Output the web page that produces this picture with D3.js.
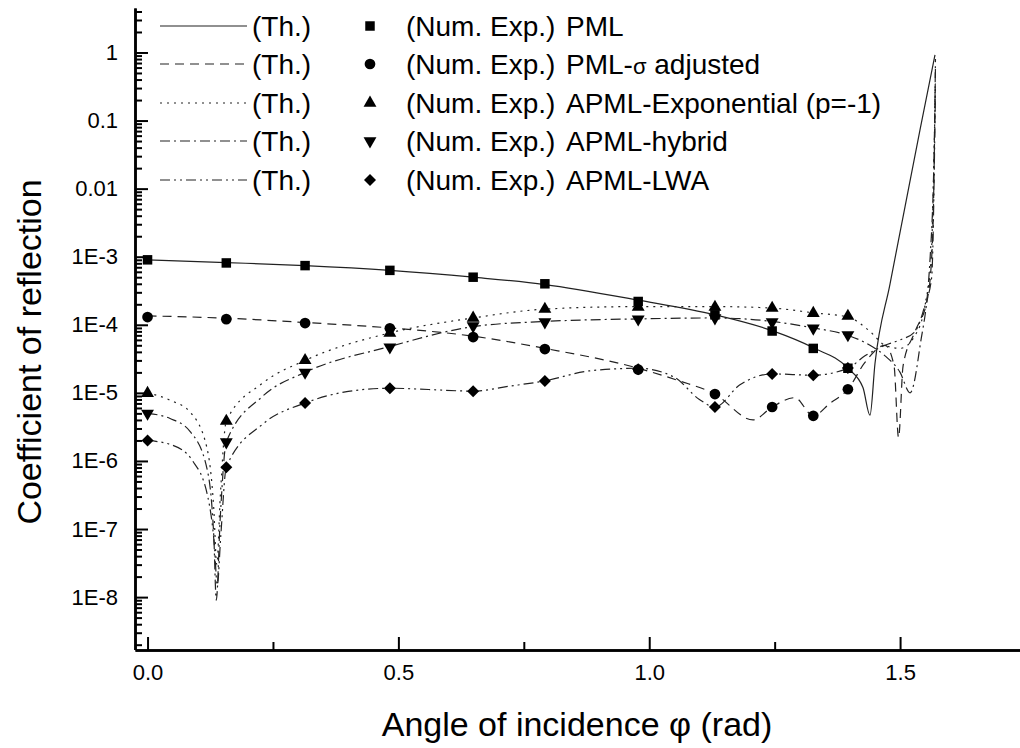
<!DOCTYPE html>
<html>
<head>
<meta charset="utf-8">
<script src="https://cdn.jsdelivr.net/npm/d3@7/dist/d3.min.js"></script>
<style>
body { margin: 0; background: #fff; }
svg { display: block; font-family: "Liberation Sans", Arial, sans-serif; }
</style>
</head>
<body>
<script>
const width = 1020;
const height = 748;

// angles of the numerical experiments (rad)
const angles = [0, 0.157, 0.314, 0.483, 0.649, 0.792, 0.978, 1.131, 1.245, 1.327, 1.396];

// numerical experiments
const expPML = [9.0e-4, 8.1e-4, 7.4e-4, 6.3e-4, 5.0e-4, 4.0e-4, 2.2e-4, 1.4e-4, 8.1e-5, 4.5e-5, 2.3e-5];
const expSigma = [1.30e-4, 1.21e-4, 1.06e-4, 8.9e-5, 6.6e-5, 4.4e-5, 2.2e-5, 9.6e-6, 6.2e-6, 4.6e-6, 1.13e-5];
const expExpo = [9.9e-6, 3.85e-6, 3.0e-5, 7.6e-5, 1.26e-4, 1.70e-4, 1.82e-4, 1.82e-4, 1.76e-4, 1.48e-4, 1.34e-4];
const expHybrid = [5.0e-6, 1.9e-6, 2.0e-5, 4.7e-5, 9.6e-5, 1.10e-4, 1.21e-4, 1.26e-4, 1.10e-4, 8.9e-5, 7.1e-5];
const expLWA = [2.0e-6, 8.1e-7, 7.1e-6, 1.17e-5, 1.06e-5, 1.49e-5, 2.23e-5, 6.2e-6, 1.89e-5, 1.82e-5, 2.31e-5];

// theory curves (angle, value)
const thPMLx = [0, 0.157, 0.314, 0.483, 0.649, 0.792, 0.978, 1.131, 1.245, 1.327, 1.396, 1.426, 1.44, 1.45, 1.48, 1.51, 1.54, 1.5696];
const thPMLy = [9.0e-4, 8.2e-4, 7.4e-4, 6.3e-4, 5.0e-4, 3.9e-4, 2.3e-4, 1.4e-4, 8.2e-5, 4.6e-5, 2.3e-5, 1.2e-5, 4.7e-6, 2.7e-5, 4e-4, 5.5e-3, 0.075, 0.92];

const thSigmax = [0, 0.157, 0.314, 0.483, 0.649, 0.792, 0.978, 1.06, 1.131, 1.207, 1.245, 1.29, 1.327, 1.36, 1.396, 1.43, 1.47, 1.488, 1.497, 1.506, 1.53, 1.555, 1.565, 1.5705];
const thSigmay = [1.35e-4, 1.25e-4, 1.08e-4, 9.0e-5, 6.8e-5, 4.5e-5, 2.3e-5, 1.5e-5, 9.6e-6, 4.0e-6, 6.2e-6, 8.5e-6, 4.6e-6, 7e-6, 1.13e-5, 2.8e-5, 5e-5, 2.5e-5, 2.2e-6, 2.5e-5, 8e-5, 2.5e-4, 2e-3, 0.6];

const thExpox = [0, 0.045, 0.085, 0.118, 0.132, 0.138, 0.145, 0.157, 0.23, 0.314, 0.483, 0.649, 0.792, 0.978, 1.131, 1.245, 1.327, 1.396, 1.44, 1.47, 1.5, 1.53, 1.55, 1.562, 1.5705];
const thExpoy = [1.0e-5, 7.8e-6, 5.2e-6, 1.6e-6, 2e-7, 3e-8, 3e-7, 3.85e-6, 1.4e-5, 3.0e-5, 7.6e-5, 1.26e-4, 1.7e-4, 1.85e-4, 1.85e-4, 1.76e-4, 1.5e-4, 1.3e-4, 8e-5, 5e-5, 4.5e-5, 7e-5, 2e-4, 1e-3, 0.35];

const thHybridx = [0, 0.045, 0.085, 0.118, 0.132, 0.137, 0.145, 0.157, 0.23, 0.314, 0.483, 0.649, 0.792, 0.978, 1.131, 1.245, 1.327, 1.396, 1.44, 1.47, 1.5, 1.52, 1.54, 1.56, 1.569, 1.5705];
const thHybridy = [5.0e-6, 4.2e-6, 2.7e-6, 8e-7, 8e-8, 9e-9, 1.5e-7, 1.9e-6, 9e-6, 2.0e-5, 4.8e-5, 9.4e-5, 1.12e-4, 1.22e-4, 1.26e-4, 1.12e-4, 9e-5, 7e-5, 5e-5, 3.5e-5, 2e-5, 1e-5, 5e-5, 1e-3, 0.1, 0.8];

const thLWAx = [0, 0.05, 0.09, 0.12, 0.133, 0.139, 0.146, 0.157, 0.23, 0.314, 0.40, 0.483, 0.56, 0.649, 0.72, 0.792, 0.88, 0.978, 1.05, 1.10, 1.131, 1.18, 1.245, 1.327, 1.396, 1.43, 1.47, 1.50, 1.53, 1.55, 1.563, 1.5705];
const thLWAy = [2.0e-6, 1.7e-6, 1.0e-6, 3e-7, 6e-8, 1.5e-8, 8e-8, 8.1e-7, 3.5e-6, 7.1e-6, 1.05e-5, 1.17e-5, 1.12e-5, 1.06e-5, 1.25e-5, 1.5e-5, 2.1e-5, 2.3e-5, 1.7e-5, 8e-6, 6.2e-6, 1.3e-5, 1.9e-5, 1.82e-5, 2.3e-5, 3.5e-5, 5e-5, 6e-5, 8e-5, 2e-4, 5e-4, 0.3];

const seriesNames = ["PML", "PML-\u03c3 adjusted", "APML-Exponential (p=-1)", "APML-hybrid", "APML-LWA"];

// axis ticks
const xMajor = [0, 0.5, 1.0, 1.5];
const xLabels = ["0.0", "0.5", "1.0", "1.5"];
const xMinor = [0.25, 0.75, 1.25, 1.75];
const yMajor = [1e-8, 1e-7, 1e-6, 1e-5, 1e-4, 1e-3, 1e-2, 1e-1, 1];
const yLabels = ["1E-8", "1E-7", "1E-6", "1E-5", "1E-4", "1E-3", "0.01", "0.1", "1"];

const svg = d3.select("body").append("svg")
    .attr("width", width)
    .attr("height", height);

const x = d3.scaleLinear().domain([-0.025, 1.75]).range([135, 1025.5]);
const y = d3.scaleLog().domain([1.7e-9, 4.5]).range([649.5, 8]);

// minor ticks on the log axis: 2..9 of each decade
const yMinor = [];
for (let e = -9; e <= 0; e++) {
    for (let k = 2; k <= 9; k++) {
        const v = k * Math.pow(10, e);
        if (v > 1.7e-9 && v < 4.5) yMinor.push(v);
    }
}

// ---- axes
svg.append("g")
    .attr("transform", "translate(135,0)")
    .call(d3.axisLeft(y).tickValues(yMinor).tickSize(-7).tickSizeOuter(0).tickFormat(""));

svg.append("g")
    .attr("transform", "translate(135,0)")
    .call(d3.axisLeft(y).tickValues(yMajor).tickSize(-13).tickSizeOuter(0).tickPadding(17)
        .tickFormat((d, i) => yLabels[i]));

svg.append("g")
    .attr("transform", "translate(0,650)")
    .call(d3.axisBottom(x).tickValues(xMinor).tickSize(-8).tickSizeOuter(0).tickFormat(""));

svg.append("g")
    .attr("transform", "translate(0,650)")
    .call(d3.axisBottom(x).tickValues(xMajor).tickSize(-13).tickSizeOuter(0).tickPadding(14)
        .tickFormat((d, i) => xLabels[i]));

svg.selectAll(".domain").attr("stroke", "#000").attr("stroke-width", 2.5);
svg.selectAll(".tick line").attr("stroke", "#000").attr("stroke-width", 2);
svg.selectAll(".tick text")
    .attr("fill", "#000")
    .style("font-size", "22px")
    .style("font-family", "'Liberation Sans', Arial, sans-serif");

svg.append("text")
    .attr("x", 577)
    .attr("y", 736)
    .attr("text-anchor", "middle")
    .style("font-size", "34px")
    .text("Angle of incidence \u03c6 (rad)");

svg.append("text")
    .attr("transform", "translate(41,352) rotate(-90)")
    .attr("text-anchor", "middle")
    .style("font-size", "34px")
    .text("Coefficient of reflection");

// ---- theory curves
const line = d3.line()
    .x((d) => x(d[0]))
    .y((d) => y(d[1]))
    .curve(d3.curveMonotoneX);

const dashes = [null, "9,6", "2,5", "10,4,2,4", "10,4,2,4,2,4"];

const theory = [
    d3.zip(thPMLx, thPMLy),
    d3.zip(thSigmax, thSigmay),
    d3.zip(thExpox, thExpoy),
    d3.zip(thHybridx, thHybridy),
    d3.zip(thLWAx, thLWAy)
];

const plot = svg.append("g");

theory.forEach((pts, i) => {
    plot.append("path")
        .attr("d", line(pts))
        .attr("fill", "none")
        .attr("stroke", "#222")
        .attr("stroke-width", 1.2)
        .attr("stroke-dasharray", dashes[i]);
});

// ---- markers
const symbolTypes = [d3.symbolSquare, d3.symbolCircle, d3.symbolTriangle, d3.symbolTriangle, d3.symbolSquare];
const symbolSizes = [90, 90, 72, 72, 72];
const symbolRotate = [0, 0, 0, 180, 45];

const experiments = [expPML, expSigma, expExpo, expHybrid, expLWA];

experiments.forEach((vals, i) => {
    const sym = d3.symbol().type(symbolTypes[i]).size(symbolSizes[i]);
    plot.selectAll(".sym_" + i)
        .data(d3.zip(angles, vals))
        .enter()
        .append("path")
        .attr("class", "sym_" + i)
        .attr("d", sym)
        .attr("fill", "#000")
        .attr("transform", (d) => "translate(" + x(d[0]) + "," + y(d[1]) + ") rotate(" + symbolRotate[i] + ")");
});

// ---- legend
const legendRows = [26, 64, 103, 141, 180];
const legend = svg.append("g").style("font-size", "28px");

seriesNames.forEach((name, i) => {
    const ly = legendRows[i];
    legend.append("line")
        .attr("x1", 160).attr("x2", 247)
        .attr("y1", ly).attr("y2", ly)
        .attr("stroke", "#222")
        .attr("stroke-width", 1.2)
        .attr("stroke-dasharray", dashes[i]);
    legend.append("text")
        .attr("x", 252).attr("y", ly)
        .attr("dy", "0.36em")
        .text("(Th.)");
    legend.append("path")
        .attr("d", d3.symbol().type(symbolTypes[i]).size(symbolSizes[i])())
        .attr("transform", "translate(370," + ly + ") rotate(" + symbolRotate[i] + ")")
        .attr("fill", "#000");
    legend.append("text")
        .attr("x", 406).attr("y", ly)
        .attr("dy", "0.36em")
        .text("(Num. Exp.)");
    const t = legend.append("text")
        .attr("x", 566).attr("y", ly)
        .attr("dy", "0.36em");
    if (name.indexOf("\u03c3") >= 0) {
        const parts = name.split("\u03c3");
        t.append("tspan").text(parts[0]);
        t.append("tspan").style("font-size", "22px").text("\u03c3");
        t.append("tspan").text(parts[1]);
    } else {
        t.text(name);
    }
});
</script>
</body>
</html>
